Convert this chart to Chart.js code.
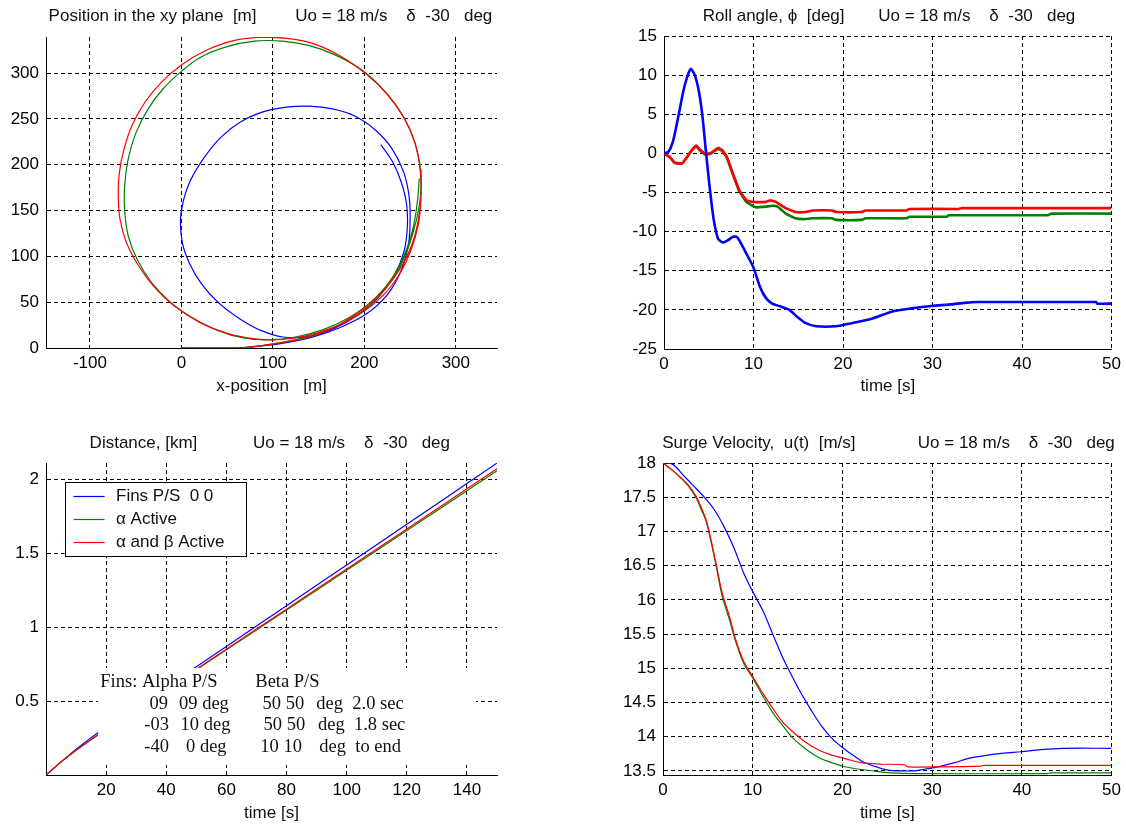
<!DOCTYPE html>
<html>
<head>
<meta charset="utf-8">
<script src="https://cdn.jsdelivr.net/npm/chart.js@4.4.1/dist/chart.umd.min.js"></script>
<style>
html,body{margin:0;padding:0;background:#fff;width:1126px;height:826px;overflow:hidden}
canvas{position:absolute}
</style>
</head>
<body>
<canvas id="c1" width="563" height="413" style="left:0px;top:0px"></canvas>
<canvas id="c2" width="563" height="413" style="left:563px;top:0px"></canvas>
<canvas id="c3" width="563" height="413" style="left:0px;top:413px"></canvas>
<canvas id="c4" width="563" height="413" style="left:563px;top:413px"></canvas>
<script>
// ---------------- DATA ----------------
const seriesLabels = ['Fins P/S  0 0', '\u03B1 Active', '\u03B1 and \u03B2 Active'];

// Panel 1: position in the xy plane [m]
const xyBlueX  = [0,30,62,85,110,140,170,202,225,240,248,250,249,243,230,212,190,165,140,115,90,65,43,25,10,2,-1,1,9,22,40,62,85,111,140,168,193,215,232,243,247,246,240,231,218];
const xyBlueY  = [0,0,0,2,5,11,21,37,58,84,112,140,165,192,218,238,253,261,264,263,258,247,230,208,183,160,140,115,92,70,50,33,20,12,13,22,36,55,78,104,132,158,182,203,222];
const xyGreenX = [0,30,62,90,120,150,180,205,226,242,253,260,262,259,250,236,217,195,168,140,110,80,50,22,0,-20,-37,-50,-58,-62,-62,-58,-48,-33,-12,12,40,68,95,125,155,183,207,228,243,253,258,260];
const xyGreenY = [0,0,0,3,8,16,29,46,68,95,125,155,180,210,238,263,286,305,320,330,335,335,329,318,302,283,260,234,207,178,150,122,96,72,50,33,19,11,9,12,20,33,50,73,100,130,160,185];
const xyRedX   = [0,30,62,85,110,140,170,200,222,240,252,259,262,261,255,243,225,202,175,145,115,85,55,25,0,-22,-40,-54,-63,-68,-69,-67,-60,-47,-30,-8,20,50,80,105,135,165,195,220,238,251,259,262,262];
const xyRedY   = [0,0,0,2,6,12,24,44,64,88,113,140,168,195,225,252,277,299,318,332,338,339,335,324,309,290,268,243,216,190,165,140,115,90,67,46,28,16,10,9,13,22,37,57,80,107,135,165,195];
const xyXTicks = [-100,0,100,200,300];
const xyYTicks = [0,50,100,150,200,250,300];

// Panel 2: roll angle [deg]
const rollBlueT  = [0,0.5,1.04,1.6,2.15,2.6,3.0,3.44,3.9,4.3,4.67,5.1,5.56,6.04,6.6,7.15,7.7,8.15,8.6,9.2,10,10.7,11.4,12.1,13.1,14,14.9,15.85,17,19.2,21,23.3,25.5,27.7,29.9,32.1,33.6,35.1,41,48.3,48.4,50];
const rollBlueV  = [0,0.2,1.7,4.7,7.9,9.8,10.8,10.0,7.9,4.7,0.4,-4.3,-8.5,-10.9,-11.4,-11.1,-10.65,-10.7,-11.5,-12.8,-14.6,-17.0,-18.5,-19.2,-19.6,-20.0,-20.9,-21.7,-22.1,-22.1,-21.7,-21.1,-20.2,-19.8,-19.5,-19.3,-19.1,-19.0,-19.0,-19.0,-19.2,-19.2];
const rollGreenT = [0,0.67,1.2,2,2.5,3.07,3.6,4,4.67,5.3,6.04,6.5,7.0,7.7,8.4,9.2,9.9,10.3,11.4,12.1,12.7,13.6,14.7,15.5,16.6,18.8,19.2,22.1,22.5,27.1,27.4,31.6,31.8,42.9,43.3,50];
const rollGreenV = [0,-0.5,-1.2,-1.3,-0.6,0.3,0.9,0.4,-0.2,0.0,0.6,0.3,-0.5,-2.7,-4.8,-6.2,-6.7,-6.9,-6.8,-6.7,-6.8,-7.7,-8.3,-8.4,-8.3,-8.3,-8.5,-8.5,-8.3,-8.3,-8.1,-8.1,-7.9,-7.9,-7.7,-7.7];
const rollRedT   = [0,0.67,1.2,2,2.5,3.07,3.6,4,4.67,5.3,6.04,6.5,7.0,7.7,8.4,9.2,9.9,11.4,11.85,12.5,13.6,14.7,15.85,16.6,18.8,19.2,22.1,22.5,27.1,27.4,32.9,33.3,50];
const rollRedV   = [0,-0.5,-1.2,-1.3,-0.6,0.4,1.0,0.5,-0.1,0.1,0.7,0.4,-0.4,-2.6,-4.7,-6.0,-6.2,-6.2,-6.0,-6.2,-7.0,-7.5,-7.5,-7.3,-7.3,-7.5,-7.5,-7.3,-7.3,-7.1,-7.1,-7.0,-7.0];
const rollXTicks = [0,10,20,30,40,50];
const rollYTicks = [-25,-20,-15,-10,-5,0,5,10,15];

// Panel 3: distance [km]
const distTime  = [0,5,10,15,17.5,20,25,30,35,40,45,50,60,70,80,90,100,110,120,130,140,150];
const distBlue  = [0,0.089,0.174,0.253,0.290,0.325,0.393,0.461,0.529,0.597,0.665,0.733,0.871,1.009,1.147,1.285,1.423,1.560,1.698,1.836,1.974,2.112];
const distGreen = [0,0.089,0.167,0.239,0.274,0.308,0.375,0.443,0.510,0.578,0.645,0.713,0.848,0.982,1.117,1.252,1.386,1.521,1.656,1.790,1.925,2.060];
const distRed   = [0,0.089,0.168,0.240,0.275,0.309,0.377,0.445,0.513,0.581,0.649,0.716,0.852,0.988,1.123,1.259,1.395,1.531,1.666,1.802,1.938,2.074];
const distXTicks = [20,40,60,80,100,120,140];
const distYTicks = [0.5,1,1.5,2];
const finsNoteText = ['Fins: Alpha P/S','Beta P/S',
  '09','09 deg','50 50','deg  2.0 sec',
  '-03','10 deg','50 50','deg  1.8 sec',
  '-40','0 deg','10 10','deg  to end'];

// Panel 4: surge velocity [m/s]
const surgeBlueT  = [0,1.1,2.2,3.3,4.6,5.7,6.8,7.9,9.0,10,11.1,12.2,13.3,14.4,15.5,16.6,17.7,18.8,20.1,21.4,22.5,24,25.1,26.6,28,29,29.9,31,32.5,34.3,36.2,38,39.9,42.1,44.6,50];
const surgeBlueV  = [18,17.98,17.83,17.68,17.50,17.32,17.07,16.76,16.39,16.12,15.85,15.51,15.17,14.88,14.61,14.37,14.15,13.98,13.83,13.71,13.62,13.55,13.51,13.50,13.50,13.52,13.54,13.57,13.62,13.69,13.73,13.76,13.78,13.81,13.83,13.83];
const surgeGreenT = [0,0.9,1.85,2.8,3.7,4.2,4.8,5.35,5.9,6.6,7.4,8.1,9.0,10,11.1,12.2,13.3,14.4,15.9,17.3,18.8,20.3,22.1,24,25.5,28,42.8,43.2,50];
const surgeGreenV = [18,17.91,17.80,17.67,17.49,17.34,17.15,16.85,16.51,16.05,15.71,15.39,15.07,14.86,14.60,14.36,14.17,13.99,13.82,13.70,13.62,13.56,13.52,13.49,13.47,13.46,13.46,13.47,13.47];
const surgeRedT   = [0,0.9,1.85,2.8,3.7,4.2,4.8,5.35,5.9,6.6,7.4,8.1,9.0,10,11.1,12.2,13.3,14.4,15.9,17.3,18.8,20.3,22.1,24,26.9,27.3,31,35.4,35.8,50];
const surgeRedV   = [18,17.91,17.80,17.68,17.51,17.37,17.17,16.88,16.54,16.10,15.76,15.42,15.10,14.88,14.64,14.42,14.22,14.08,13.92,13.81,13.73,13.68,13.62,13.60,13.59,13.56,13.56,13.57,13.58,13.58];
const surgeXTicks = [0,10,20,30,40,50];
const surgeYTicks = [13.5,14,14.5,15,15.5,16,16.5,17,17.5,18];

// ---------------- STYLE / LAYOUT ----------------
const SANS = '"Liberation Sans", Arial, Helvetica, sans-serif';
const SERIF = '"Liberation Serif", "Times New Roman", serif';
const BLUE = '#0000ff', GREEN = '#008000', RED = '#ff0000';
const TXT = '#111';
const subtitle = 'Uo = 18 m/s    \u03B4  -30   deg';

function pts(xs, ys){ return xs.map((x, i) => ({x: x, y: ys[i]})); }

function ds(label, xs, ys, color, width, order, tension){
  return {label: label, data: pts(xs, ys), borderColor: color, backgroundColor: color,
    borderWidth: width, pointRadius: 0, pointHoverRadius: 0, fill: false,
    tension: tension || 0, order: order};
}

function axis(min, max, ticks, fit, isX, extra){
  const a = {
    type: 'linear', min: min, max: max,
    grid: {color: '#000', lineWidth: 1, drawTicks: false},
    border: {display: true, color: '#000', width: 1, dash: [4, 3]},
    afterBuildTicks: s => { s.ticks = ticks.map(v => ({value: v})); },
    ticks: {font: {family: SANS, size: 17}, color: '#000', autoSkip: false, maxRotation: 0,
      padding: isX ? 5 : 7, callback: v => String(v)}
  };
  if (isX) a.afterFit = s => { s.height = fit; };
  else a.afterFit = s => { s.width = fit; };
  return Object.assign(a, extra || {});
}

function titlePlugin(y, parts){
  return {id: 'panelTitle', afterDraw(chart){
    const ctx = chart.ctx, L = chart.chartArea.left;
    ctx.save();
    ctx.font = '17px ' + SANS; ctx.fillStyle = TXT;
    ctx.textBaseline = 'middle'; ctx.textAlign = 'left';
    parts.forEach(p => ctx.fillText(p[0], L + p[1], y));
    ctx.restore();
  }};
}

function xTitle(text, padBottom){
  return {title: {display: true, text: text, color: TXT, font: {family: SANS, size: 17},
    padding: {top: 0, bottom: padBottom}}};
}

function makeChart(id, datasets, scales, pad, plugins){
  return new Chart(document.getElementById(id), {
    type: 'line',
    data: {datasets: datasets},
    options: {
      responsive: false, animation: false, events: [],
      layout: {padding: {top: pad.top, right: pad.right, bottom: 0, left: 0}},
      plugins: {legend: {display: false}, tooltip: {enabled: false}, title: {display: false}},
      scales: scales
    },
    plugins: plugins
  });
}

// Panel 1
makeChart('c1', [
  ds(seriesLabels[0], xyBlueX, xyBlueY, BLUE, 1.2, 2, 0.4),
  ds(seriesLabels[1], xyGreenX, xyGreenY, GREEN, 1.2, 1, 0.4),
  ds(seriesLabels[2], xyRedX, xyRedY, RED, 1.2, 0, 0.4)
], {
  x: axis(-148, 345, xyXTicks, 65, true, xTitle('x-position   [m]', 16)),
  y: axis(0, 339.5, xyYTicks, 46, false)
}, {top: 37, right: 66}, [titlePlugin(16.7, [['Position in the xy plane  [m]', 2.6], [subtitle, 249.3]])]);

// Panel 2
makeChart('c2', [
  ds(seriesLabels[0], rollBlueT, rollBlueV, BLUE, 2.6, 0, 0.2),
  ds(seriesLabels[1], rollGreenT, rollGreenV, GREEN, 2.6, 2, 0.1),
  ds(seriesLabels[2], rollRedT, rollRedV, RED, 2.6, 1, 0.1)
], {
  x: axis(0, 50, rollXTicks, 64, true, xTitle('time [s]', 16)),
  y: axis(-25, 15, rollYTicks, 101, false)
}, {top: 36, right: 11}, [titlePlugin(16.7, [['Roll angle, \u03D5  [deg]', 38.7], [subtitle, 214.3]])]);

// Panel 3
const distOverlay = {id: 'distOverlay', afterDatasetsDraw(chart){
  const ctx = chart.ctx, a = chart.chartArea, L = a.left, T = a.top;
  ctx.save();
  // text annotation (white background)
  ctx.fillStyle = '#fff';
  ctx.fillRect(L + 52, T + 205, 378, 97);
  const pos = [[54.3,218.7],[209.3,218.7],
    [103.6,240.7],[133,240.7],[216.6,240.7],[270.3,240.7],
    [98.3,262.4],[134.6,262.4],[217.6,262.4],[272,262.4],
    [98.3,284],[140,284],[214.3,284],[273.3,284]];
  ctx.fillStyle = TXT; ctx.font = '18.5px ' + SERIF;
  ctx.textBaseline = 'middle'; ctx.textAlign = 'left';
  finsNoteText.forEach((t, i) => ctx.fillText(t, L + pos[i][0], T + pos[i][1]));
  // legend box
  const bx = L + 18.6, by = T + 19.4, bw = 180.7, bh = 74;
  ctx.fillStyle = '#fff'; ctx.fillRect(bx, by, bw, bh);
  ctx.strokeStyle = '#000'; ctx.lineWidth = 1; ctx.setLineDash([]);
  ctx.strokeRect(Math.round(bx) + 0.5, Math.round(by) + 0.5, Math.round(bw), Math.round(bh));
  const rows = [14, 36.6, 59.6];
  ctx.font = '17px ' + SANS;
  chart.data.datasets.forEach((d, i) => {
    const yy = Math.round(by + rows[i]) + 0.5;
    ctx.strokeStyle = d.borderColor; ctx.lineWidth = 1.2;
    ctx.beginPath(); ctx.moveTo(bx + 9, yy); ctx.lineTo(bx + 40, yy); ctx.stroke();
    ctx.fillStyle = TXT; ctx.fillText(d.label, bx + 51.4, by + rows[i]);
  });
  ctx.restore();
}};
makeChart('c3', [
  ds(seriesLabels[0], distTime, distBlue, BLUE, 1.2, 2),
  ds(seriesLabels[1], distTime, distGreen, GREEN, 1.2, 1),
  ds(seriesLabels[2], distTime, distRed, RED, 1.2, 0)
], {
  x: axis(0, 150, distXTicks, 51, true, xTitle('time [s]', 2.5)),
  y: axis(0, 2.113, distYTicks, 46, false)
}, {top: 50, right: 66}, [distOverlay, titlePlugin(30.3, [['Distance, [km]', 43.6], [subtitle, 207]])]);

// Panel 4
makeChart('c4', [
  ds(seriesLabels[0], surgeBlueT, surgeBlueV, BLUE, 1.2, 2, 0.3),
  ds(seriesLabels[1], surgeGreenT, surgeGreenV, GREEN, 1.2, 1, 0.3),
  ds(seriesLabels[2], surgeRedT, surgeRedV, RED, 1.2, 0, 0.3)
], {
  x: axis(0, 50, surgeXTicks, 51, true, xTitle('time [s]', 2.5)),
  y: axis(13.44, 18, surgeYTicks, 100, false)
}, {top: 50, right: 11}, [titlePlugin(30.3, [['Surge Velocity,  u(t)  [m/s]', -0.8], [subtitle, 254.8]])]);
</script>
</body>
</html>
